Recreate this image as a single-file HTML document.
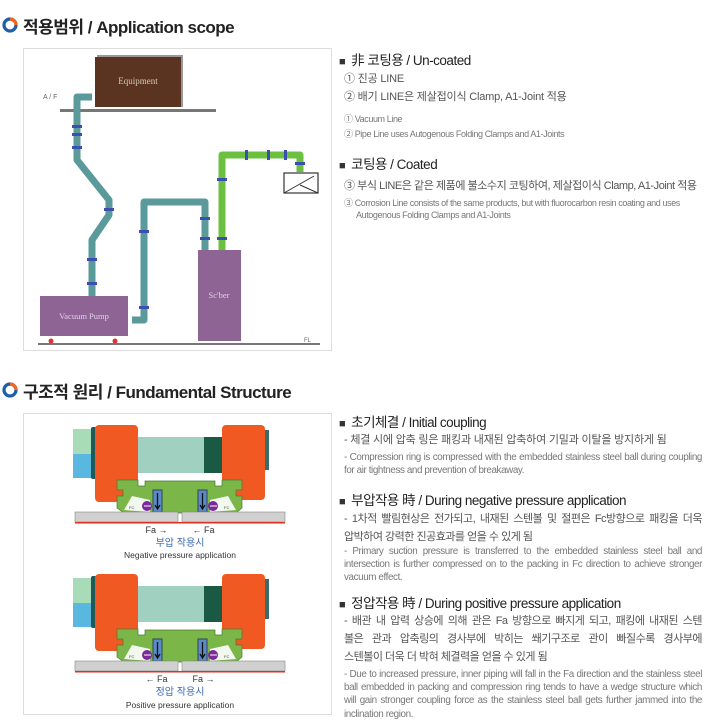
<!DOCTYPE html>
<html><head><meta charset="utf-8"><style>
body{margin:0;width:705px;height:723px;background:#fff;position:relative;overflow:hidden;font-family:"Liberation Sans","Noto Sans CJK KR",sans-serif}
.t{position:absolute;white-space:nowrap}
.h1{font-size:17px;font-weight:bold;color:#222;letter-spacing:-0.5px}
.h2{font-size:13.5px;color:#222;letter-spacing:-0.5px}
.h2 b{font-size:11px;color:#333;margin-right:6px}
.k{font-size:11px;color:#555;letter-spacing:-0.2px}
.e{font-size:9.85px;color:#777;letter-spacing:-0.4px}
.p{position:absolute;width:358px;text-align:justify;text-align-last:left;line-height:13.2px}
.j{position:absolute;width:358px;line-height:18px;letter-spacing:-0.5px}
.j div{text-align:justify;text-align-last:justify;white-space:nowrap}
.j div:last-child{text-align-last:left}
</style></head><body>
<svg width="705" height="723" style="position:absolute;left:0;top:0">
<circle cx="10" cy="25" r="6" fill="none" stroke="#1e5fa8" stroke-width="3.2"/>
<path d="M10 19 A6 6 0 0 1 16 25" stroke="#f26522" stroke-width="3.2" fill="none"/>
<circle cx="10" cy="390" r="6" fill="none" stroke="#1e5fa8" stroke-width="3.2"/>
<path d="M10 384 A6 6 0 0 1 16 390" stroke="#f26522" stroke-width="3.2" fill="none"/>
<rect x="23.5" y="48.5" width="308" height="302" fill="#fff" stroke="#ddd"/>
<rect x="23.5" y="413.5" width="308" height="301" fill="#fff" stroke="#ddd"/>
<rect x="60" y="109" width="156" height="3" fill="#777"/>
<rect x="97" y="55" width="86" height="52" fill="#999"/>
<rect x="95" y="57" width="86" height="50" fill="#5a3420"/>
<text x="138" y="84" font-family="Liberation Serif" font-size="9" fill="#d8c8b8" text-anchor="middle">Equipment</text>
<text x="43" y="99" font-size="7" fill="#666">A / F</text>
<rect x="38" y="343" width="282" height="2" fill="#777"/>
<text x="304" y="342" font-size="6" fill="#666">FL</text>
<g fill="none" stroke="#5b9a9a" stroke-width="7" stroke-linejoin="round">
<path d="M92 97 H77 V160 L109 200 V215 L92 240 V296"/>
<path d="M132 320 H144 V202 H205 V250"/>
</g>
<path d="M222 250 V155 H300 V172" fill="none" stroke="#6cc040" stroke-width="7" stroke-linejoin="round"/>
<g fill="#3c4fb0">
<rect x="72" y="125" width="10" height="3"/><rect x="72" y="133" width="10" height="3"/><rect x="72" y="146" width="10" height="3"/>
<rect x="104" y="208" width="10" height="3"/><rect x="87" y="258" width="10" height="3"/><rect x="87" y="282" width="10" height="3"/>
<rect x="139" y="230" width="10" height="3"/><rect x="139" y="306" width="10" height="3"/><rect x="200" y="217" width="10" height="3"/><rect x="200" y="237" width="10" height="3"/>
<rect x="217" y="178" width="10" height="3"/><rect x="217" y="237" width="10" height="3"/>
<rect x="245" y="150" width="3" height="10"/><rect x="267" y="150" width="3" height="10"/><rect x="284" y="150" width="3" height="10"/><rect x="295" y="162" width="10" height="3"/>
</g>
<rect x="40" y="296" width="88" height="40" fill="#8e6494"/>
<text x="84" y="319" font-family="Liberation Serif" font-size="8.5" fill="#e0d0e8" text-anchor="middle">Vacuum Pump</text>
<circle cx="51" cy="341" r="2.5" fill="#d33"/><circle cx="115" cy="341" r="2.5" fill="#d33"/>
<rect x="198" y="250" width="43" height="91" fill="#8e6494"/>
<text x="219" y="298" font-family="Liberation Serif" font-size="8.5" fill="#e0d0e8" text-anchor="middle">Sc'ber</text>
<rect x="284" y="173" width="34" height="20" fill="#fff" stroke="#333" stroke-width="1.2"/>
<path d="M284 193 L314 176 M300 185 L318 193" stroke="#333" fill="none"/>
<g id="cl">
<rect x="73" y="429" width="19" height="25" fill="#a8dcb8"/><rect x="73" y="454" width="19" height="24" fill="#5ab8e0"/>
<rect x="91" y="427" width="6" height="52" rx="2" fill="#1e5a5a"/>
<rect x="95" y="425" width="43" height="77" rx="4" fill="#f05a22"/>
<rect x="138" y="437" width="66" height="36" fill="#9fd0c0"/>
<rect x="204" y="437" width="18" height="36" fill="#1a5a44"/>
<rect x="222" y="425" width="43" height="75" rx="4" fill="#f05a22"/>
<rect x="265" y="430" width="4" height="40" fill="#3a6a6a"/>
<path d="M117 480 H138 V486 H145 V481 H215 V486 H222 V480 H242 V490 H236 V496 H242 V508 L236 513 H124 L117 508 V496 H123 V490 H117 Z" fill="#7ab648" stroke="#4a7a30" stroke-width="0.7"/>
<path d="M124 510 L132 496 L150 500 L150 512 Z M236 510 L228 496 L210 500 L210 512 Z" fill="#fff" opacity="0.9"/>
<rect x="153" y="490" width="9" height="22" fill="#5a8ac8" stroke="#345"/>
<rect x="198" y="490" width="9" height="22" fill="#5a8ac8" stroke="#345"/>
<path d="M157.5 493 V508 M155 505 L157.5 509 L160 505 M202.5 493 V508 M200 505 L202.5 509 L205 505" stroke="#111" stroke-width="1.3" fill="none"/>
<circle cx="147" cy="506" r="5" fill="#7a2a9a"/><circle cx="213" cy="506" r="5" fill="#7a2a9a"/>
<path d="M144 506 H151 M210 506 H217" stroke="#fff" stroke-width="1"/>
<text x="129" y="509" font-size="4" fill="#444">FC</text><text x="224" y="509" font-size="4" fill="#444">FC</text>
<rect x="75" y="512" width="103" height="10" fill="#d0d0d0" stroke="#888" stroke-width="0.6"/>
<rect x="182" y="512" width="103" height="10" fill="#d0d0d0" stroke="#888" stroke-width="0.6"/>
<rect x="75" y="522" width="210" height="1.5" fill="#e03020"/>
</g>
<use href="#cl" y="149"/>
<text x="180" y="533" font-size="9" fill="#333" text-anchor="middle" xml:space="preserve">Fa →          ← Fa</text>
<text x="180" y="546" font-size="10" fill="#3a6ab0" text-anchor="middle" font-family="Liberation Sans,Noto Sans CJK KR,sans-serif">부압 작용시</text>
<text x="180" y="558" font-size="8.5" fill="#333" text-anchor="middle">Negative pressure application</text>
<text x="180" y="682" font-size="9" fill="#333" text-anchor="middle" xml:space="preserve">← Fa          Fa →</text>
<text x="180" y="695" font-size="10" fill="#3a6ab0" text-anchor="middle" font-family="Liberation Sans,Noto Sans CJK KR,sans-serif">정압 작용시</text>
<text x="180" y="708" font-size="8.5" fill="#333" text-anchor="middle">Positive pressure application</text>
</svg>
<div class="t h1" style="left:23px;top:13px">적용범위 / Application scope</div>
<div class="t h1" style="left:23px;top:378px">구조적 원리 / Fundamental Structure</div>

<div class="t h2" style="left:339px;top:49px"><b>■</b>非 코팅용 / Un-coated</div>
<div class="t k" style="left:344px;top:70px">① 진공 LINE</div>
<div class="t k" style="left:344px;top:88px">② 배기 LINE은 제살접이식 Clamp, A1-Joint 적용</div>
<div class="t e" style="left:344px;top:112px;font-size:9px">① Vacuum Line</div>
<div class="t e" style="left:344px;top:127px;font-size:9px">② Pipe Line uses Autogenous Folding Clamps and A1-Joints</div>
<div class="t h2" style="left:339px;top:153px"><b>■</b>코팅용 / Coated</div>
<div class="t k" style="left:344px;top:177px;letter-spacing:-0.45px">③ 부식 LINE은 같은 제품에 불소수지 코팅하여, 제살접이식 Clamp, A1-Joint 적용</div>
<div class="t e" style="left:344px;top:196px;font-size:9px">③ Corrosion Line consists of the same products, but with fluorocarbon resin coating and uses</div>
<div class="t e" style="left:356px;top:210px;font-size:9px">Autogenous Folding Clamps and A1-Joints</div>

<div class="t h2" style="left:339px;top:411px"><b>■</b>초기체결 / Initial coupling</div>
<div class="t k" style="left:344px;top:431px">- 체결 시에 압축 링은 패킹과 내재된 압축하여 기밀과 이탈을 방지하게 됨</div>
<div class="p e" style="left:344px;top:451px">- Compression ring is compressed with the embedded stainless steel ball during coupling for air tightness and prevention of breakaway.</div>
<div class="t h2" style="left:339px;top:489px"><b>■</b>부압작용 時 / During negative pressure application</div>
<div class="j k" style="left:344px;top:510px"><div>- 1차적 빨림현상은 전가되고, 내재된 스텐볼 및 절편은 Fc방향으로 패킹을 더욱</div><div>압박하여 강력한 진공효과를 얻을 수 있게 됨</div></div>
<div class="p e" style="left:344px;top:545px">- Primary suction pressure is transferred to the embedded stainless steel ball and intersection is further compressed on to the packing in Fc direction to achieve stronger vacuum effect.</div>
<div class="t h2" style="left:339px;top:592px"><b>■</b>정압작용 時 / During positive pressure application</div>
<div class="j k" style="left:344px;top:612px"><div>- 배관 내 압력 상승에 의해 관은 Fa 방향으로 빠지게 되고, 패킹에 내재된 스텐</div><div>볼은 관과 압축링의 경사부에 박히는 쐐기구조로 관이 빠질수록 경사부에</div><div>스텐볼이 더욱 더 박혀 체결력을 얻을 수 있게 됨</div></div>
<div class="p e" style="left:344px;top:668px">- Due to increased pressure, inner piping will fall in the Fa direction and the stainless steel ball embedded in packing and compression ring tends to have a wedge structure which will gain stronger coupling force as the stainless steel ball gets further jammed into the inclination region.</div>
</body></html>
